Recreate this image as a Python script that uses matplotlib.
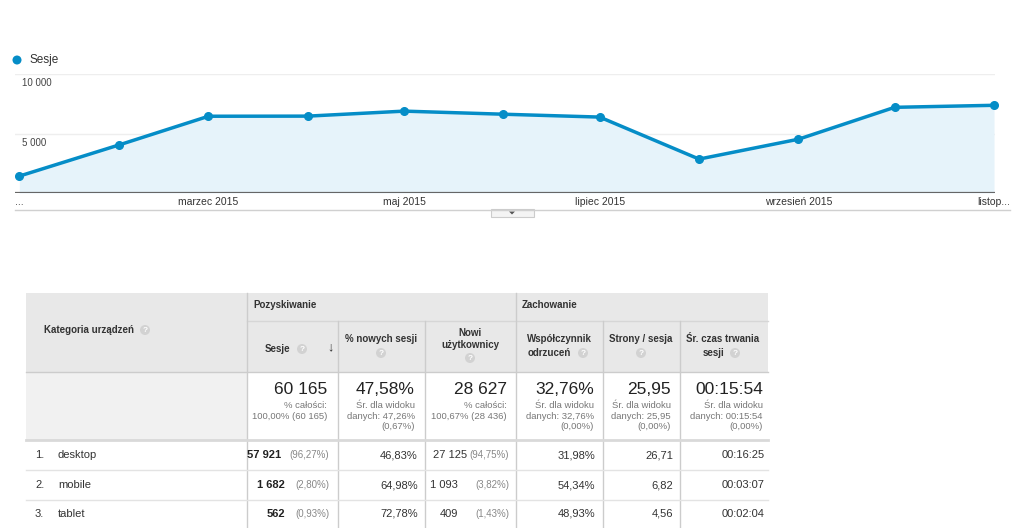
import numpy as np
import matplotlib
matplotlib.use("Agg")
import matplotlib.pyplot as plt
import matplotlib.dates as mdates
from matplotlib.patches import Rectangle, Circle, Polygon
import datetime as dt

plt.rcParams['font.family'] = ['Liberation Sans', 'DejaVu Sans']

# --- dane wykresu (sesje miesięcznie) ---
months = [dt.date(2015, m, 1) for m in range(1, 12)]
sessions_month = [1420, 4030, 6450, 6460, 6880, 6620, 6380, 2850, 4520, 7200, 7370]
tick_dates = [dt.date(2015, 1, 1), dt.date(2015, 3, 1), dt.date(2015, 5, 1),
              dt.date(2015, 7, 1), dt.date(2015, 9, 1), dt.date(2015, 11, 1)]
tick_labels = ["...", "marzec 2015", "maj 2015", "lipiec 2015", "wrzesień 2015", "listop..."]
y_ticks = [10000, 5000]
y_tick_labels = ["10 000", "5 000"]

# --- dane tabeli ---
categories = ["desktop", "mobile", "tablet"]
sessions = ["57 921", "1 682", "562"]
sessions_pct = ["(96,27%)", "(2,80%)", "(0,93%)"]
new_sessions_pct = ["46,83%", "64,98%", "72,78%"]
new_users = ["27 125", "1 093", "409"]
new_users_pct = ["(94,75%)", "(3,82%)", "(1,43%)"]
bounce_rate = ["31,98%", "54,34%", "48,93%"]
pages_per_session = ["26,71", "6,82", "4,56"]
avg_duration = ["00:16:25", "00:03:07", "00:02:04"]

summary_main = ["60 165", "47,58%", "28 627", "32,76%", "25,95", "00:15:54"]
summary_sub = [["% całości:", "100,00% (60 165)"],
               ["Śr. dla widoku", "danych: 47,26%", "(0,67%)"],
               ["% całości:", "100,67% (28 436)"],
               ["Śr. dla widoku", "danych: 32,76%", "(0,00%)"],
               ["Śr. dla widoku", "danych: 25,95", "(0,00%)"],
               ["Śr. dla widoku", "danych: 00:15:54", "(0,00%)"]]

BLUE = '#058dc7'
FILL = '#e6f3fa'
TXT = '#333333'
GREY = '#777777'

fig = plt.figure(figsize=(10.24, 5.28), dpi=100)

# warstwa w pikselach (tabela, legenda, drobiazgi)
tab = fig.add_axes([0, 0, 1, 1])
tab.set_xlim(0, 1024)
tab.set_ylim(528, 0)
tab.axis('off')


def help_icon(x, y):
    tab.add_patch(Circle((x, y), 5, color='#d2d2d2', lw=0))
    tab.text(x, y + 0.3, '?', color='white', fontsize=6, ha='center', va='center',
             fontweight='bold')


# legenda
tab.add_patch(Circle((17, 60), 4.5, color=BLUE, lw=0))
tab.text(30, 60, "Sesje", fontsize=8.5, color=TXT, va='center')

# linia pod wykresem i zakładka
tab.plot([15, 1010], [209.5, 209.5], color='#d0d0d0', lw=1)
tab.add_patch(Rectangle((491, 209), 43, 8, facecolor='#f4f4f4', edgecolor='#cccccc', lw=0.8))
tab.add_patch(Polygon([[509, 211.5], [515, 211.5], [512, 214.5]], closed=True, color='#555555', lw=0))

# --- wykres ---
ax = fig.add_axes([15 / 1024, 1 - 193 / 528, 980 / 1024, (193 - 74) / 528])
ax.patch.set_alpha(0)
x = mdates.date2num(months)
ax.set_xlim(x[0] - 1.35, x[-1] + 0.3)
ax.set_ylim(0, 10000)
for yv in y_ticks:
    ax.axhline(yv, color='#eeeeee', lw=1, zorder=0)
ax.fill_between(x, sessions_month, 0, color=FILL, lw=0, zorder=1)
ax.plot(x, sessions_month, color=BLUE, lw=2.5, marker='o', ms=5.5, zorder=3, clip_on=False)
ax.axhline(0, color='#666666', lw=1.6, zorder=2)
for sp in ax.spines.values():
    sp.set_visible(False)
ax.set_yticks([])
ax.set_xticks(mdates.date2num(tick_dates))
ax.set_xticklabels(tick_labels, fontsize=7.5, color=TXT)
ax.tick_params(axis='x', length=0, pad=3)
for yv, lab in zip(y_ticks, y_tick_labels):
    ax.annotate(lab, xy=(ax.get_xlim()[0], yv), xytext=(7, -9), textcoords='offset pixels',
                fontsize=7, color='#444444', ha='left', va='center')

# --- tabela ---
tab.add_patch(Rectangle((26, 293), 742, 79, facecolor='#e8e8e8', lw=0))
tab.add_patch(Rectangle((26, 372), 221, 68, facecolor='#f1f1f1', lw=0))

line_c = '#cccccc'
tab.plot([247, 768], [321, 321], color='#d6d6d6', lw=1)
for xe in [247, 516]:
    tab.plot([xe, xe], [293, 528], color=line_c, lw=1)
for xe in [338, 425, 603, 680]:
    tab.plot([xe, xe], [321, 528], color=line_c, lw=1)
tab.plot([26, 768], [372, 372], color=line_c, lw=1)
tab.plot([26, 768], [440, 440], color='#d9d9d9', lw=2)
for yr in [470, 500]:
    tab.plot([26, 768], [yr, yr], color='#e3e3e3', lw=1)

hfs = 7
hkw = dict(fontsize=hfs, color=TXT, fontweight='bold', va='center')
tab.text(44, 330, "Kategoria urządzeń", **hkw)
help_icon(145, 330)
tab.text(253, 305, "Pozyskiwanie", **hkw)
tab.text(522, 305, "Zachowanie", **hkw)

tab.text(290, 349, "Sesje", ha='right', **hkw)
help_icon(302, 349)
tab.text(330, 347, "↓", fontsize=9, color=TXT, fontweight='bold', va='center', ha='center')

tab.text(381, 339, "% nowych sesji", ha='center', **hkw)
help_icon(381, 353)
tab.text(470, 333, "Nowi", ha='center', **hkw)
tab.text(470, 345, "użytkownicy", ha='center', **hkw)
help_icon(470, 358)
tab.text(559, 339, "Współczynnik", ha='center', **hkw)
tab.text(549, 353, "odrzuceń", ha='center', **hkw)
help_icon(583, 353)
tab.text(641, 339, "Strony / sesja", ha='center', **hkw)
help_icon(641, 353)
tab.text(723, 339, "Śr. czas trwania", ha='center', **hkw)
tab.text(714, 353, "sesji", ha='center', **hkw)
help_icon(735, 353)

# wiersz podsumowania
sum_right = [327, 415, 507, 594, 671, 763]
for xr, main, subs in zip(sum_right, summary_main, summary_sub):
    tab.text(xr, 389, main, fontsize=12.5, color='#222222', ha='right', va='center')
    for k, s in enumerate(subs):
        tab.text(xr, 406 + 10.3 * k, s, fontsize=6.8, color=GREY, ha='right', va='center')

# wiersze danych
row_y = [455, 485, 514]
sess_num_right = [281, 285, 285]
new_num_right = [467, 458, 458]
dfs = 8
for i, yr in enumerate(row_y):
    tab.text(35, yr, f"{i + 1}.", fontsize=dfs, color=TXT, va='center')
    tab.text(58, yr, categories[i], fontsize=dfs, color=TXT, va='center')
    tab.text(sess_num_right[i], yr, sessions[i], fontsize=dfs, color='#222222', fontweight='bold',
             ha='right', va='center')
    tab.text(329, yr, sessions_pct[i], fontsize=7, color='#888888', ha='right', va='center')
    tab.text(418, yr, new_sessions_pct[i], fontsize=dfs, color=TXT, ha='right', va='center')
    tab.text(new_num_right[i], yr, new_users[i], fontsize=dfs, color=TXT, ha='right', va='center')
    tab.text(509, yr, new_users_pct[i], fontsize=7, color='#888888', ha='right', va='center')
    tab.text(595, yr, bounce_rate[i], fontsize=dfs, color=TXT, ha='right', va='center')
    tab.text(673, yr, pages_per_session[i], fontsize=dfs, color=TXT, ha='right', va='center')
    tab.text(765, yr, avg_duration[i], fontsize=dfs, color=TXT, ha='right', va='center')

fig.savefig("out.png", dpi=100)
